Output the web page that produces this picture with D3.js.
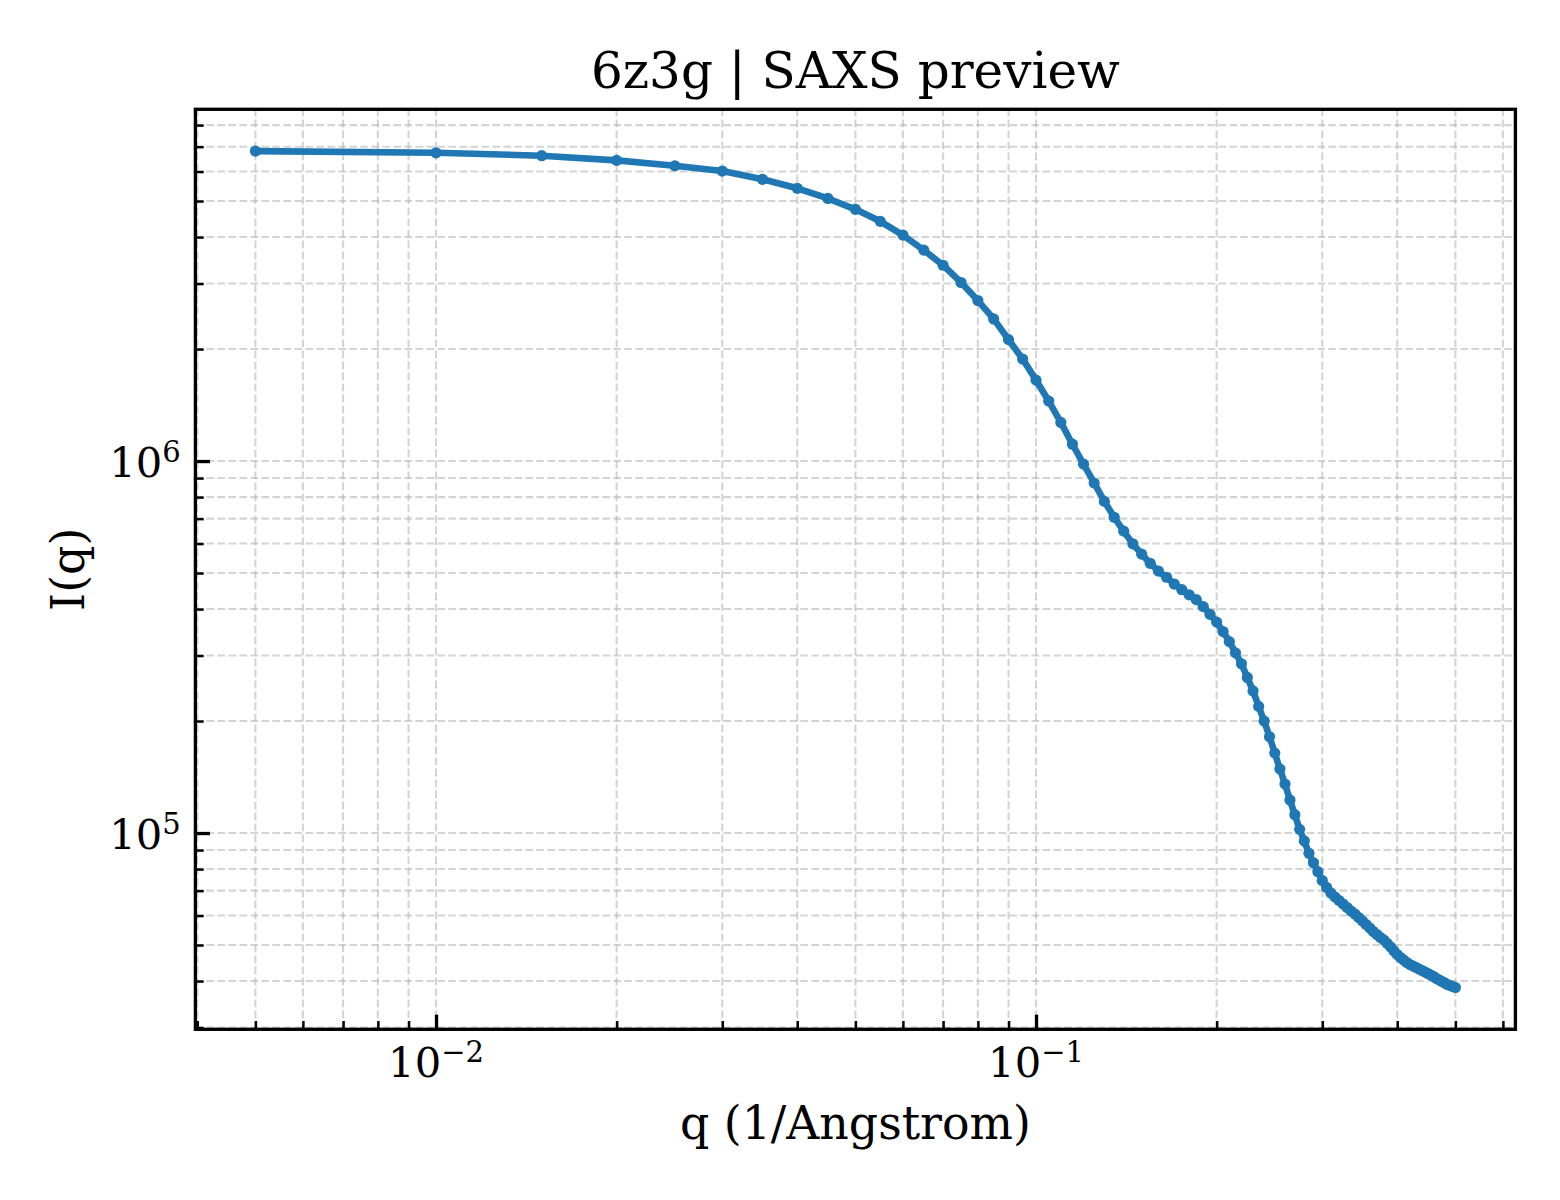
<!DOCTYPE html>
<html>
<head>
<meta charset="utf-8">
<script src="https://cdn.jsdelivr.net/npm/d3@7"></script>
<style>
  html, body { margin: 0; padding: 0; background: #ffffff; }
  svg { display: block; }
  text { font-family: "DejaVu Serif", serif; fill: #000; }
</style>
</head>
<body>
<svg id="chart" width="1560" height="1200"></svg>
<script>
// ---- data ----
const title = "6z3g | SAXS preview";
const xLabel = "q (1/Angstrom)";
const yLabel = "I(q)";

const q = [
  0.005, 0.010, 0.015, 0.020, 0.025, 0.030, 0.035, 0.040, 0.045, 0.050,
  0.055, 0.060, 0.065, 0.070, 0.075, 0.080, 0.085, 0.090, 0.095, 0.100,
  0.105, 0.110, 0.115, 0.120, 0.125, 0.130, 0.135, 0.140, 0.145, 0.150,
  0.155, 0.160, 0.165, 0.170, 0.175, 0.180, 0.185, 0.190, 0.195, 0.200,
  0.205, 0.210, 0.215, 0.220, 0.225, 0.230, 0.235, 0.240, 0.245, 0.250,
  0.255, 0.260, 0.265, 0.270, 0.275, 0.280, 0.285, 0.290, 0.295, 0.300,
  0.305, 0.310, 0.315, 0.320, 0.325, 0.330, 0.335, 0.340, 0.345, 0.350,
  0.355, 0.360, 0.365, 0.370, 0.375, 0.380, 0.385, 0.390, 0.395, 0.400,
  0.405, 0.410, 0.415, 0.420, 0.425, 0.430, 0.435, 0.440, 0.445, 0.450,
  0.455, 0.460, 0.465, 0.470, 0.475, 0.480, 0.485, 0.490, 0.495, 0.500
];

const intensity = [
  6810000, 6740000, 6620000, 6430000, 6220000, 6020000, 5720000, 5410000, 5080000, 4750000,
  4410000, 4050000, 3690000, 3360000, 3020000, 2700000, 2410000, 2120000, 1880000, 1650000,
  1450000, 1270000, 1110000, 981000, 873000, 779000, 706000, 648000, 599000, 562000,
  531000, 506000, 487000, 467000, 451000, 437000, 424000, 406000, 387000, 369000,
  348000, 327000, 305000, 285000, 262000, 241000, 219000, 200000, 181500, 164000,
  148600, 135400, 122700, 112000, 102300, 95200, 88200, 83200, 78700, 74500,
  71400, 69000, 67300, 65850, 64450, 63050, 61700, 60580, 59270, 58000,
  56750, 55540, 54350, 53360, 52370, 51570, 50470, 49380, 48180, 47150,
  46280, 45570, 44870, 44320, 43910, 43500, 43100, 42700, 42300, 41910,
  41530, 41140, 40640, 40260, 39890, 39530, 39160, 38920, 38680, 38440
];

const xMajorTicks = [0.01, 0.1];
const xMajorExp = ["\u22122", "\u22121"];
const yMajorTicks = [1e5, 1e6];
const yMajorExp = ["5", "6"];

(function () {
  // ---- layout ----
  const W = 1560, H = 1200;
  const pl = 195.4, pr = 1515.4, pt = 109.3, pb = 1029.3;
  const lineColor = "#1f77b4";

  const data = q.map((v, i) => ({ q: v, I: intensity[i] }));

  function paddedLogDomain(vals) {
    const lo = Math.log10(d3.min(vals)), hi = Math.log10(d3.max(vals));
    const m = (hi - lo) * 0.05;
    return [Math.pow(10, lo - m), Math.pow(10, hi + m)];
  }

  const x = d3.scaleLog().domain(paddedLogDomain(q)).range([pl, pr]);
  const y = d3.scaleLog().domain(paddedLogDomain(intensity)).range([pb, pt]);

  const svg = d3.select("#chart");
  svg.append("rect").attr("width", W).attr("height", H).attr("fill", "#ffffff");

  const xAll = x.ticks();
  const yAll = y.ticks();
  const isPow10 = v => Math.abs(Math.log10(v) - Math.round(Math.log10(v))) < 1e-9;
  const xMinor = xAll.filter(v => !isPow10(v));
  const yMinor = yAll.filter(v => !isPow10(v));

  // ---- grid (major + minor, dashed) ----
  const grid = svg.append("g").attr("class", "grid")
    .attr("stroke", "#b0b0b0").attr("stroke-opacity", 0.55)
    .attr("stroke-width", 2.08).attr("stroke-dasharray", "7.7,3.3").attr("fill", "none");

  grid.selectAll("line.gx").data(xAll).join("line").attr("class", "gx")
    .attr("x1", d => x(d)).attr("x2", d => x(d))
    .attr("y1", pb).attr("y2", pt);
  grid.selectAll("line.gy").data(yAll).join("line").attr("class", "gy")
    .attr("x1", pl).attr("x2", pr)
    .attr("y1", d => y(d)).attr("y2", d => y(d));

  // ---- axes ticks (inward) ----
  function styleAxis(g, w) {
    g.select(".domain").remove();
    g.selectAll(".tick line").attr("stroke", "#000").attr("stroke-width", w);
    g.selectAll(".tick text").remove();
  }

  const gxMinor = svg.append("g").attr("transform", `translate(0,${pb})`)
    .call(d3.axisBottom(x).tickValues(xMinor).tickSizeInner(-8.3).tickSizeOuter(0).tickFormat(""));
  styleAxis(gxMinor, 2.5);
  const gxMajor = svg.append("g").attr("transform", `translate(0,${pb})`)
    .call(d3.axisBottom(x).tickValues(xMajorTicks).tickSizeInner(-14.6).tickSizeOuter(0).tickFormat(""));
  styleAxis(gxMajor, 3.33);

  const gyMinor = svg.append("g").attr("transform", `translate(${pl},0)`)
    .call(d3.axisLeft(y).tickValues(yMinor).tickSizeInner(-8.3).tickSizeOuter(0).tickFormat(""));
  styleAxis(gyMinor, 2.5);
  const gyMajor = svg.append("g").attr("transform", `translate(${pl},0)`)
    .call(d3.axisLeft(y).tickValues(yMajorTicks).tickSizeInner(-14.6).tickSizeOuter(0).tickFormat(""));
  styleAxis(gyMajor, 3.33);

  // ---- tick labels (10^n) ----
  const tickFont = 41.7, supFont = 29, supRise = 15;
  xMajorTicks.forEach((v, i) => {
    const t = svg.append("text").attr("x", x(v)).attr("y", 1077)
      .attr("text-anchor", "middle").attr("font-size", tickFont);
    t.append("tspan").text("10");
    t.append("tspan").attr("font-size", supFont).attr("dy", -supRise).text(xMajorExp[i]);
  });
  yMajorTicks.forEach((v, i) => {
    const t = svg.append("text").attr("x", pl - 14.6).attr("y", y(v) + 15.7)
      .attr("text-anchor", "end").attr("font-size", tickFont);
    t.append("tspan").text("10");
    t.append("tspan").attr("font-size", supFont).attr("dy", -supRise).text(yMajorExp[i]);
  });

  // ---- data line + markers ----
  const line = d3.line().x(d => x(d.q)).y(d => y(d.I));
  svg.append("path").datum(data).attr("d", line)
    .attr("fill", "none").attr("stroke", lineColor).attr("stroke-width", 6.6)
    .attr("stroke-linejoin", "round").attr("stroke-linecap", "square");
  svg.append("g").selectAll("circle").data(data).join("circle")
    .attr("cx", d => x(d.q)).attr("cy", d => y(d.I)).attr("r", 5.6)
    .attr("fill", lineColor);

  // ---- spines ----
  svg.append("rect").attr("x", pl).attr("y", pt)
    .attr("width", pr - pl).attr("height", pb - pt)
    .attr("fill", "none").attr("stroke", "#000").attr("stroke-width", 3.33);

  // ---- labels ----
  svg.append("text").attr("x", (pl + pr) / 2).attr("y", 88)
    .attr("text-anchor", "middle").attr("font-size", 50).text(title);
  svg.append("text").attr("x", (pl + pr) / 2).attr("y", 1139)
    .attr("text-anchor", "middle").attr("font-size", 45.8).text(xLabel);
  svg.append("text").attr("transform", `translate(84,${(pt + pb) / 2}) rotate(-90)`)
    .attr("text-anchor", "middle").attr("font-size", 45.8).text(yLabel);
})();
</script>
</body>
</html>
